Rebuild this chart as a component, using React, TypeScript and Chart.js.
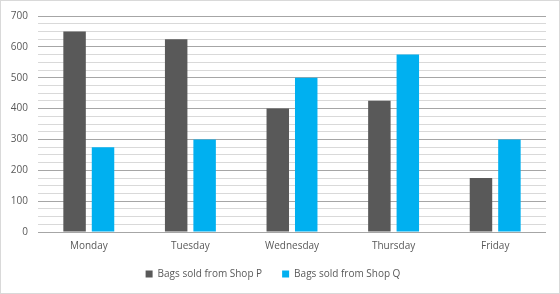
import React, { useEffect, useRef } from "react";
import { Chart, registerables } from "chart.js";

Chart.register(...registerables);

const categories = ["Monday", "Tuesday", "Wednesday", "Thursday", "Friday"];
const shopP = [650, 625, 400, 425, 175];
const shopQ = [275, 300, 500, 575, 300];
const seriesNames = ["Bags sold from Shop P", "Bags sold from Shop Q"];

export default function App() {
  const ref = useRef<HTMLCanvasElement | null>(null);

  useEffect(() => {
    document.body.style.margin = "0";
    const canvas = ref.current;
    if (!canvas) return;
    const borderPlugin = {
      id: "outerBorder",
      beforeDraw(chart: any) {
        const ctx = chart.ctx;
        ctx.save();
        ctx.fillStyle = "#ffffff";
        ctx.fillRect(0, 0, chart.width, chart.height);
        ctx.strokeStyle = "#d9d9d9";
        ctx.lineWidth = 1;
        ctx.strokeRect(0.5, 0.5, chart.width - 1, chart.height - 1);
        ctx.restore();
      },
      afterLayout(chart: any) {
        const x = chart.scales.x;
        if (x) {
          x.bottom += 11;
          x.height += 11;
        }
      },
    };
    const chart = new Chart(canvas, {
      type: "bar",
      data: {
        labels: categories,
        datasets: [
          {
            label: seriesNames[0],
            data: shopP,
            backgroundColor: "#595959",
            categoryPercentage: 0.56,
            barPercentage: 0.79,
          },
          {
            label: seriesNames[1],
            data: shopQ,
            backgroundColor: "#00b0f0",
            categoryPercentage: 0.56,
            barPercentage: 0.79,
          },
        ],
      },
      options: {
        animation: false,
        responsive: false,
        maintainAspectRatio: false,
        layout: { padding: { top: 7, right: 14, left: 0, bottom: 5 } },
        plugins: {
          legend: {
            position: "bottom",
            labels: {
              boxWidth: 7,
              boxHeight: 7,
              padding: 20,
              color: "#595959",
              font: { family: "'Open Sans', sans-serif", size: 10 },
            },
          },
          tooltip: { enabled: false },
        },
        scales: {
          x: {
            grid: { display: false, drawTicks: false },
            border: { display: false },
            afterFit(scale: any) {
              scale.height = scale.height - 11;
            },
            ticks: {
              color: "#595959",
              padding: 8,
              font: { family: "'Open Sans', sans-serif", size: 10 },
            },
          },
          y: {
            min: 0,
            max: 700,
            afterFit(scale: any) {
              scale.width = 38;
            },
            border: { display: false },
            grid: {
              drawTicks: false,
              color: (ctx: any) =>
                ctx.tick && ctx.tick.value % 100 === 0 ? "#a6a6a6" : "#d9d9d9",
              lineWidth: 1,
            },
            ticks: {
              stepSize: 25,
              autoSkip: false,
              padding: 10,
              color: "#595959",
              font: { family: "'Open Sans', sans-serif", size: 10 },
              callback: (v: any) => (Number(v) % 100 === 0 ? String(v) : ""),
            },
          },
        },
      },
      plugins: [borderPlugin],
    });
    return () => chart.destroy();
  }, []);

  return (
    <div style={{ width: 560, height: 294 }}>
      <canvas ref={ref} width={560} height={294} style={{ display: "block" }} />
    </div>
  );
}
